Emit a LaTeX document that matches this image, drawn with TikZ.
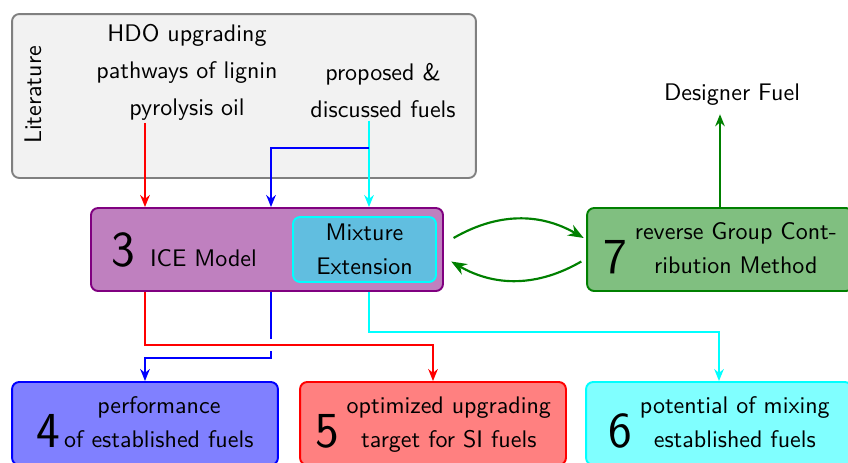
\documentclass[tikz,border=0pt]{standalone}
\usepackage{fontspec}
\usetikzlibrary{arrows.meta}
\renewcommand{\familydefault}{\sfdefault}
\renewcommand{\arraystretch}{1.2}
\definecolor{LitGrey}{RGB}{242,242,242}
\definecolor{MixBlue}{RGB}{97,190,224}
\definecolor{FuelGreen}{RGB}{0,128,0}
\definecolor{Aqua}{RGB}{0,255,255}
\newcommand{\stepno}[1]{{\fontsize{21}{21}\selectfont #1}}

\begin{document}
\begin{tikzpicture}[x=0.4167pt, y=-0.4167pt,
    box/.style={draw, rounded corners=3pt, line width=0.8pt, inner sep=0pt},
    outbox/.style={box, minimum width=110.8pt, minimum height=34.6pt, align=center},
    littext/.style={align=center, inner sep=1pt, font=\fontsize{10}{15.4}\selectfont},
    conn/.style={line width=0.8pt, -{Stealth[length=5pt, width=4pt]}},
    swap/.style={line width=0.9pt, -{Stealth[length=6.5pt, width=5pt]}},
    ]
    \useasboundingbox (0,0) rectangle (848,462);
    \clip (0,0) rectangle (848,462);

    % Literature block on top
    \node[box, draw=gray, fill=LitGrey, minimum width=193.3pt, minimum height=68.3pt] (lit) at (244,96) {};
    \node[rotate=90] (littitle) at (33,95) {Literature};
    \node[littext] (hdo) at (187,72) {HDO upgrading\\pathways of lignin\\pyrolysis oil};
    \node[littext] (prop) at (383,90.5) {proposed \&\\discussed fuels};

    % ICE model with its mixture extension
    \node[box, draw=violet, fill=violet!50, minimum width=146.7pt, minimum height=34.6pt,
          inner xsep=8.75pt, text width=129.2pt, align=left] (ice) at (267,249.5) {\stepno{3}\hspace{6pt}ICE Model};
    \node[box, draw=Aqua, fill=MixBlue, minimum width=59.6pt, minimum height=27.1pt, align=center,
          font=\fontsize{10}{14}\selectfont] (mixext) at (364.5,249.5) {Mixture\\Extension};

    % reverse group contribution and the designer fuel
    \node[outbox, draw=FuelGreen, fill=FuelGreen!50] (rgc) at (720,249.5) {\stepno{7}\ \begin{tabular}[b]{@{}c@{}}reverse Group Cont-\\ribution Method\end{tabular}};
    \node (fuel) at (732,95) {Designer Fuel};

    % results in the bottom row
    \node[outbox, draw=blue, fill=blue!50] (perf) at (145,423.5) {\stepno{4}\,\begin{tabular}[b]{@{}c@{}}performance\\of established fuels\end{tabular}};
    \node[outbox, draw=red, fill=red!50] (opt) at (433,423.5) {\stepno{5}\ \begin{tabular}[b]{@{}c@{}}optimized upgrading\\target for SI fuels\end{tabular}};
    \node[outbox, draw=Aqua, fill=Aqua!50] (mixing) at (719,423.5) {\stepno{6}\ \begin{tabular}[b]{@{}c@{}}potential of mixing\\established fuels\end{tabular}};

    % columns of the connectors
    \coordinate (redx) at (145,0);
    \coordinate (bluex) at (271,0);
    \coordinate (cyanx) at (369,0);

    % literature into the model
    \draw[conn, red] (redx |- hdo.south) -- (redx |- ice.north);
    \draw[conn, Aqua] (cyanx |- prop.south) -- (cyanx |- ice.north);
    \draw[conn, blue] (cyanx |- 0,148) -| (bluex |- ice.north);

    % model out to the results
    \draw[conn, blue] (bluex |- ice.south) -- (bluex |- 0,358) -| (perf.north);
    \draw[white, line width=4pt] (bluex |- 0,339) -- (bluex |- 0,351);
    \draw[conn, red] (redx |- ice.south) -- (redx |- 0,345) -| (opt.north);
    \draw[conn, Aqua] (cyanx |- ice.south) -- (cyanx |- 0,332) -| (mixing.north);

    % exchange with the group contribution method
    \draw[swap, FuelGreen] ([xshift=4pt, yshift=4.8pt]ice.east) to[bend left=30] ([xshift=-1pt, yshift=4.8pt]rgc.west);
    \draw[swap, FuelGreen] ([xshift=-2pt, yshift=-5pt]rgc.west) to[bend left=30] ([xshift=3pt, yshift=-5pt]ice.east);
    \draw[conn, FuelGreen] (rgc.north) -- (rgc.north |- fuel.south);
\end{tikzpicture}
\end{document}
